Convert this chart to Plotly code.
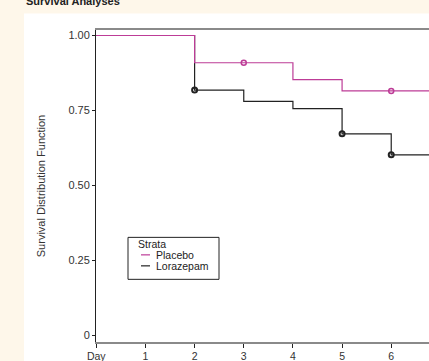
import plotly.graph_objects as go

# Data (Kaplan-Meier step estimates)
placebo_days = [0, 2, 4, 5, 7]
placebo_surv = [1.0, 0.909, 0.853, 0.815, 0.815]
placebo_cens_days = [3, 6]
placebo_cens_surv = [0.909, 0.815]

loraz_days = [0, 2, 3, 4, 5, 6, 7]
loraz_surv = [1.0, 0.818, 0.780, 0.756, 0.672, 0.602, 0.602]
loraz_cens_days = [2, 5, 6]
loraz_cens_surv = [0.818, 0.672, 0.602]

strata_names = ["Placebo", "Lorazepam"]
x_tickvals = [0, 1, 2, 3, 4, 5, 6]
x_ticktext = ["Day", "1", "2", "3", "4", "5", "6"]
y_tickvals = [0, 0.25, 0.5, 0.75, 1.0]
y_ticktext = ["0", "0.25", "0.50", "0.75", "1.00"]

MAG = "#bd3c97"
BLK = "#222222"
FONT = "Liberation Sans, Arial, sans-serif"

W, H = 429, 361
ML, MR, MT, MB = 96, 0, 29.5, 19.3
PW, PH = W - ML - MR, H - MT - MB


def px(x):
    return (x - ML) / PW


def py(y):
    return (MT + PH - y) / PH


fig = go.Figure()
fig.add_trace(go.Scatter(x=loraz_days, y=loraz_surv, mode="lines", line_shape="hv",
                         line=dict(color=BLK, width=1.2), name=strata_names[1]))
fig.add_trace(go.Scatter(x=loraz_cens_days, y=loraz_cens_surv, mode="markers",
                         marker=dict(symbol="circle-open", size=5, color=BLK, line=dict(width=2, color=BLK))))
fig.add_trace(go.Scatter(x=placebo_days, y=placebo_surv, mode="lines", line_shape="hv",
                         line=dict(color=MAG, width=1.2), name=strata_names[0]))
fig.add_trace(go.Scatter(x=placebo_cens_days, y=placebo_cens_surv, mode="markers",
                         marker=dict(symbol="circle-open", size=5, color=MAG, line=dict(width=1.5, color=MAG))))

# Legend box drawn as shapes/annotations (compact, like the original)
shapes = [
    dict(type="rect", xref="paper", yref="paper", layer="below",
         x0=px(24), x1=1.05, y0=-0.2, y1=py(13), fillcolor="white", line=dict(width=0)),
    dict(type="rect", xref="paper", yref="paper", x0=px(128), x1=px(219), y0=py(279), y1=py(237),
         fillcolor="white", line=dict(color="#222", width=1)),
]
annotations = [
    dict(text="<b>Survival Analyses</b>", xref="paper", yref="paper",
         x=px(24), y=py(8), xanchor="left", yanchor="bottom",
         showarrow=False, font=dict(size=11, color="#222")),
    dict(text="Strata", xref="paper", yref="paper", x=px(136), y=py(243.5), xanchor="left",
         yanchor="middle", showarrow=False, font=dict(size=10.5, color="#222")),
]
for i, (name, col) in enumerate(zip(strata_names, [MAG, BLK])):
    yy = 254.5 + i * 11
    shapes.append(dict(type="line", xref="paper", yref="paper", x0=px(141), x1=px(150),
                       y0=py(yy), y1=py(yy), line=dict(color=col, width=1.2)))
    annotations.append(dict(text=name, xref="paper", yref="paper", x=px(154), y=py(yy),
                            xanchor="left", yanchor="middle", showarrow=False,
                            font=dict(size=10.5, color="#222")))

fig.update_layout(
    width=W, height=H,
    margin=dict(l=ML, r=MR, t=MT, b=MB, pad=0),
    paper_bgcolor="#fef7ea",
    plot_bgcolor="white",
    font=dict(family=FONT, size=11, color="#333333"),
    showlegend=False,
    xaxis=dict(range=[-0.006, (W - ML) / 49.2], tickvals=x_tickvals, ticktext=x_ticktext,
               showgrid=False, zeroline=False, showline=True, linecolor="#8a8a8a", linewidth=1.5,
               mirror=True, ticks="outside", ticklen=4, tickcolor="#222", tickwidth=1,
               tickfont=dict(size=10.5, color="#333"), automargin=False),
    yaxis=dict(range=[-0.0223, 1.0183], tickvals=y_tickvals, ticktext=y_ticktext,
               showgrid=False, zeroline=False, showline=True, linecolor="#222", linewidth=1,
               ticks="outside", ticklen=3, tickcolor="#222", tickwidth=1,
               tickfont=dict(size=11, color="#333"), automargin=False,
               title=dict(text="Survival Distribution Function", font=dict(size=11, color="#333"),
                          standoff=20)),
    shapes=shapes,
    annotations=annotations,
)

fig.write_html("out.html", config={"displayModeBar": False},
               post_script="document.body.style.margin='0';")
